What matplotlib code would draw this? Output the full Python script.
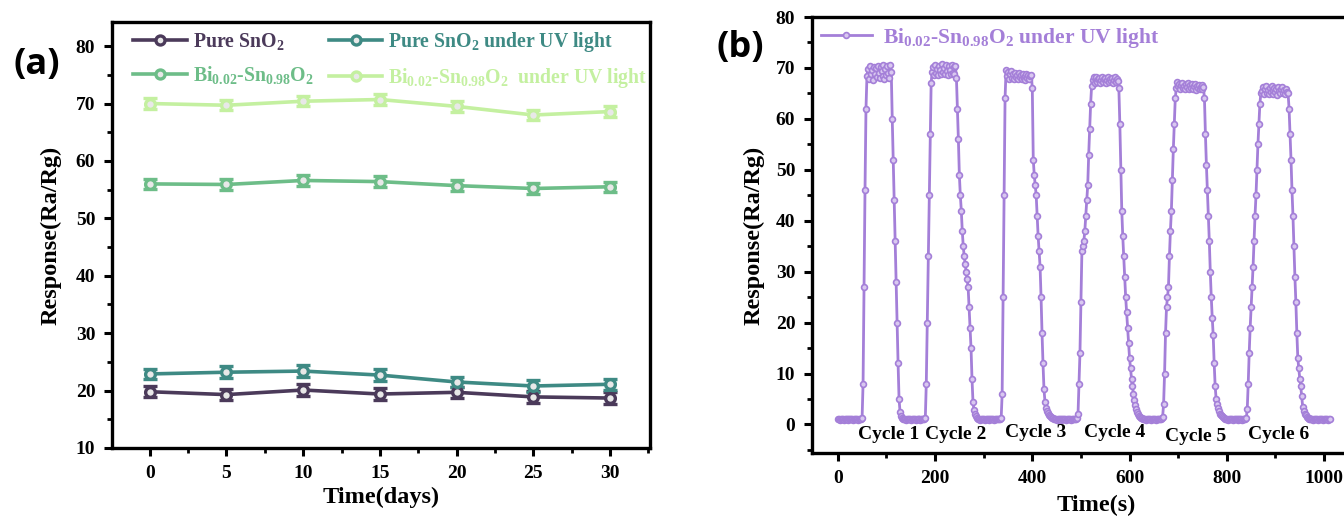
import numpy as np
import matplotlib
matplotlib.use("Agg")
import matplotlib.pyplot as plt
from matplotlib.ticker import MultipleLocator

plt.rcParams["font.family"] = ["Liberation Serif", "DejaVu Serif"]
plt.rcParams["font.weight"] = "bold"
plt.rcParams["mathtext.fontset"] = "custom"
plt.rcParams["mathtext.rm"] = "Liberation Serif:bold"
plt.rcParams["mathtext.bf"] = "Liberation Serif:bold"
plt.rcParams["mathtext.it"] = "Liberation Serif:bold"
plt.rcParams["mathtext.default"] = "rm"

# ---------------- (a) stability over 30 days ----------------
days = [0, 5, 10, 15, 20, 25, 30]
pure_sno2 = [19.8, 19.3, 20.1, 19.4, 19.7, 18.9, 18.7]
pure_sno2_err = [1.0, 1.0, 1.1, 1.0, 1.0, 1.0, 1.0]
pure_sno2_uv = [22.9, 23.2, 23.4, 22.7, 21.5, 20.8, 21.1]
pure_sno2_uv_err = [0.9, 1.0, 1.0, 1.0, 0.9, 1.0, 1.0]
bi_sno2 = [56.0, 55.9, 56.6, 56.4, 55.7, 55.2, 55.5]
bi_sno2_err = [0.9, 1.0, 0.9, 0.9, 0.9, 0.9, 0.9]
bi_sno2_uv = [70.0, 69.7, 70.4, 70.7, 69.5, 68.0, 68.6]
bi_sno2_uv_err = [0.9, 0.9, 0.9, 0.9, 0.9, 0.9, 0.9]

bi_label = r"Bi$_{0.02}$-Sn$_{0.98}$O$_{2}$"
series_a = [
    ("Pure SnO$_{2}$", pure_sno2, pure_sno2_err, "#4b3a5a"),
    ("Pure SnO$_{2}$ under UV light", pure_sno2_uv, pure_sno2_uv_err, "#3e8a84"),
    (bi_label, bi_sno2, bi_sno2_err, "#6dbd88"),
    (bi_label + "  under UV light", bi_sno2_uv, bi_sno2_uv_err, "#c4f0a0"),
]

# ---------------- (b) six response/recovery cycles ----------------
# each chunk: start time (s) and readings every 2 s
chunk_start_s = [0, 134, 288, 444, 628, 796, 968]
chunk_1 = [1.0, 1.1, 0.9, 1.0, 1.1, 1.0, 0.9, 1.0, 1.1, 1.0, 1.0, 0.9, 1.1,
           1.0, 1.0, 1.1, 0.9, 1.0, 1.0, 1.1, 1.0, 0.9, 1.0, 1.1, 1.0, 1.2,
           8.0, 27.0, 46.0, 62.0,
           68.4, 69.8, 67.9, 70.3, 68.8, 69.5, 67.6, 70.1, 68.9, 69.9, 68.2,
           70.4, 69.1, 68.0, 70.2, 69.4, 68.5, 70.5, 67.8, 69.7, 68.6, 70.3,
           69.0, 68.1, 70.6, 69.2,
           60.0, 52.0, 44.0, 36.0, 28.0, 20.0, 12.0, 5.0, 2.5, 1.6, 1.2]
chunk_2 = [1.1, 1.0, 1.0, 0.9, 1.1, 1.0, 1.0, 1.1, 0.9, 1.0, 1.0, 1.1, 1.0,
           0.9, 1.0, 1.1, 1.0, 1.0, 0.9, 1.1, 1.0, 1.0, 1.1, 1.2,
           8.0, 20.0, 33.0, 45.0, 57.0, 67.0,
           69.3, 70.2, 68.7, 70.6, 69.0, 69.8, 68.6, 70.4, 69.5, 68.9, 70.7,
           69.2, 70.0, 68.8, 70.5, 69.4, 68.7, 70.3, 69.6, 68.9, 70.6, 69.1,
           70.1, 68.8, 70.4,
           68.0, 62.0, 56.0, 49.0, 45.0, 42.0, 38.0, 35.0, 33.0, 31.5, 30.0,
           28.5, 27.0, 23.0, 19.0, 15.0, 9.0, 4.5, 2.8, 2.0, 1.6, 1.3]
chunk_3 = [1.1, 1.0, 0.9, 1.0, 1.1, 1.0, 1.0, 0.9, 1.1, 1.0, 1.0, 1.1, 0.9,
           1.0, 1.0, 1.1, 1.0, 0.9, 1.0, 1.1, 1.0, 1.0, 1.1, 1.0, 1.2,
           6.0, 25.0, 45.0, 64.0,
           69.6, 68.4, 69.2, 67.9, 68.8, 69.4, 68.1, 68.9, 67.8, 69.0, 68.3,
           68.7, 67.9, 69.1, 68.2, 68.6, 67.8, 68.9, 68.1, 68.5, 67.7, 68.8,
           68.0, 68.6, 67.9, 68.4, 68.7,
           66.0, 52.0, 49.0, 47.0, 45.0, 41.0, 37.0, 34.0, 31.0, 25.0, 18.0,
           12.0, 7.0, 4.5, 3.2, 2.6, 2.2, 1.9, 1.7, 1.5, 1.3, 1.2]
chunk_4 = [1.1, 1.0, 1.0, 0.9, 1.0, 1.1, 1.0, 1.0, 0.9, 1.1, 1.0, 1.0, 1.1,
           0.9, 1.0, 1.0, 1.1, 1.0, 0.9, 1.0, 1.1, 1.0, 1.0, 1.1, 1.3,
           2.0, 8.0, 14.0, 24.0, 34.0, 35.0, 36.0, 38.0, 41.0, 44.0, 47.0,
           53.0, 58.0, 63.0, 66.5,
           67.6, 68.2, 67.1, 67.9, 68.3, 67.3, 67.8, 68.1, 67.0, 67.7, 68.2,
           67.2, 67.9, 68.0, 67.1, 67.6, 68.3, 67.2, 67.8, 67.4, 68.1, 67.0,
           67.7, 68.2, 67.3, 67.9, 67.5,
           66.0, 59.0, 50.0, 42.0, 37.0, 33.0, 29.0, 25.0, 22.0, 19.0, 16.0,
           13.0, 11.0, 9.0, 7.5, 6.0, 4.8, 3.8, 3.0, 2.4, 2.0, 1.7, 1.5, 1.3,
           1.2]
chunk_5 = [1.1, 1.0, 1.0, 0.9, 1.1, 1.0, 1.0, 1.1, 0.9, 1.0, 1.0, 1.1, 1.0,
           0.9, 1.0, 1.1, 1.0, 1.0, 1.1, 1.2,
           1.5, 4.0, 10.0, 18.0, 23.0, 25.0, 27.0, 33.0, 38.0, 42.0, 48.0,
           54.0, 59.0, 64.0, 66.0,
           67.2, 66.4, 66.9, 65.8, 66.7, 67.1, 66.0, 66.5, 65.9, 66.8, 66.2,
           67.0, 65.8, 66.6, 66.1, 66.9, 65.9, 66.4, 66.8, 65.7, 66.5, 66.0,
           66.7, 65.8, 66.3, 66.6, 65.9, 66.2,
           64.0, 57.0, 51.0, 46.0, 41.0, 36.0, 30.0, 25.0, 21.0, 17.5, 12.0,
           7.6, 5.0, 4.0, 3.2, 2.6, 2.1, 1.8, 1.6, 1.4, 1.2]
chunk_6 = [1.1, 1.0, 1.0, 0.9, 1.1, 1.0, 1.0, 1.1, 0.9, 1.0, 1.0, 1.1, 1.0,
           0.9, 1.0, 1.1, 1.0, 1.0, 0.9, 1.1, 1.0, 1.0, 1.2,
           3.0, 8.0, 14.0, 19.0, 23.0, 27.0, 31.0, 36.0, 41.0, 45.0, 50.0,
           55.0, 59.0, 63.0, 65.0,
           65.4, 66.2, 64.8, 65.9, 66.4, 65.1, 65.7, 64.9, 66.1, 65.3, 66.5,
           64.8, 65.6, 66.0, 65.2, 65.8, 64.7, 66.3, 65.4, 65.0, 65.9, 66.2,
           65.1, 65.6, 64.9, 65.8, 65.3, 65.0,
           62.0, 57.0, 52.0, 46.0, 41.0, 35.0, 29.0, 24.0, 18.0, 13.0, 11.0,
           9.0, 7.5, 5.5, 3.5, 2.6, 2.1, 1.8, 1.5, 1.3]
chunk_7 = [1.2, 1.1, 1.0, 1.0, 1.1, 0.9, 1.0, 1.1, 1.0, 1.0, 0.9, 1.1, 1.0,
           1.0, 1.1, 0.9, 1.0, 1.0, 1.1, 1.0, 0.9, 1.0, 1.1]
chunks = [chunk_1, chunk_2, chunk_3, chunk_4, chunk_5, chunk_6, chunk_7]
cycle_labels = ["Cycle 1", "Cycle 2", "Cycle 3", "Cycle 4", "Cycle 5", "Cycle 6"]
cycle_label_t = [104, 243, 407, 569, 736, 907]
cycle_label_y = [-2.0, -2.0, -1.5, -1.5, -2.3, -2.0]

SAMPLE_STEP_S = 2
time_s = np.concatenate([s + SAMPLE_STEP_S * np.arange(len(c))
                         for s, c in zip(chunk_start_s, chunks)])
response = np.concatenate([np.asarray(c, float) for c in chunks])

W, H = 1344, 518
fig = plt.figure(figsize=(W / 100, H / 100), dpi=100)


def px_axes(left, top, right, bottom):
    return fig.add_axes([left / W, 1 - bottom / H, (right - left) / W, (bottom - top) / H])


def style_axes(ax):
    for sp in ax.spines.values():
        sp.set_linewidth(2.4)
    ax.tick_params(which="major", direction="out", length=6, width=2.2,
                   labelsize=14, pad=6)
    ax.tick_params(which="minor", direction="out", length=3.5, width=2.0)
    ax.tick_params(top=False, right=False, which="both")
    for lab in ax.get_xticklabels() + ax.get_yticklabels():
        lab.set_fontweight("bold")


# panel (a)
ax1 = px_axes(112, 22, 650, 448)
for name, vals, err, col in series_a:
    ax1.errorbar(days, vals, yerr=err, color=col, lw=2.6, marker="o", ms=7,
                 mfc="#e8e8e8", mec=col, mew=2.4, capsize=5, capthick=2.2,
                 elinewidth=2.2, label=name)
ax1.set_xlim(-2.46, 32.6)
ax1.set_ylim(10, 84.2)
ax1.xaxis.set_major_locator(MultipleLocator(5))
ax1.xaxis.set_minor_locator(MultipleLocator(2.5))
ax1.yaxis.set_major_locator(MultipleLocator(10))
ax1.yaxis.set_minor_locator(MultipleLocator(5))
style_axes(ax1)
ax1.set_xlabel("Time(days)", fontsize=17.5, fontweight="bold", labelpad=4)
ax1.set_ylabel("Response(Ra/Rg)", fontsize=17.5, fontweight="bold", labelpad=10)
handles, labels = ax1.get_legend_handles_labels()
handles = [h[0] for h in handles]
order = [0, 2, 1, 3]  # fill the two-column legend row by row
leg1 = ax1.legend([handles[i] for i in order], [labels[i] for i in order],
                  ncol=2, loc="upper left", frameon=False,
                  fontsize=14.2, handlelength=2.7, columnspacing=0.8,
                  borderaxespad=0.0, bbox_to_anchor=(0.025, 1.0),
                  labelspacing=0.6, handletextpad=0.3)
for txt, i in zip(leg1.get_texts(), order):
    txt.set_color(series_a[i][3])
for h in leg1.legend_handles:
    h.set_markersize(6.5)

fig.text(37 / W, 1 - 65 / H, "(a)", fontsize=26, fontweight="bold",
         family="Open Sans", ha="center", va="center")

# panel (b)
purple = "#a47fd8"
ax2 = px_axes(812, 17, 1380, 453)
ax2.plot(time_s, response, color=purple, lw=2.0, marker="o", ms=4.2,
         mfc="#d9c8f0", mec=purple, mew=1.2,
         label=r"Bi$_{0.02}$-Sn$_{0.98}$O$_{2}$ under UV light")
ax2.set_xlim(-53, 1115)
ax2.set_ylim(-5.6, 80)
ax2.xaxis.set_major_locator(MultipleLocator(200))
ax2.xaxis.set_minor_locator(MultipleLocator(100))
ax2.yaxis.set_major_locator(MultipleLocator(10))
ax2.yaxis.set_minor_locator(MultipleLocator(5))
style_axes(ax2)
ax2.set_xlabel("Time(s)", fontsize=17.5, fontweight="bold", labelpad=6)
ax2.set_ylabel("Response(Ra/Rg)", fontsize=17.5, fontweight="bold", labelpad=8)
leg2 = ax2.legend(loc="upper left", frameon=False, fontsize=15.5,
                  handlelength=2.4, borderaxespad=0.0, handletextpad=0.5,
                  bbox_to_anchor=(0.0, 1.0))
for txt in leg2.get_texts():
    txt.set_color(purple)
for lab, t, y in zip(cycle_labels, cycle_label_t, cycle_label_y):
    ax2.text(t, y, lab, fontsize=14, fontweight="bold", ha="center", va="center")

fig.text(740 / W, 1 - 48 / H, "(b)", fontsize=26, fontweight="bold",
         family="Open Sans", ha="center", va="center")

fig.savefig("out.png", dpi=100)
